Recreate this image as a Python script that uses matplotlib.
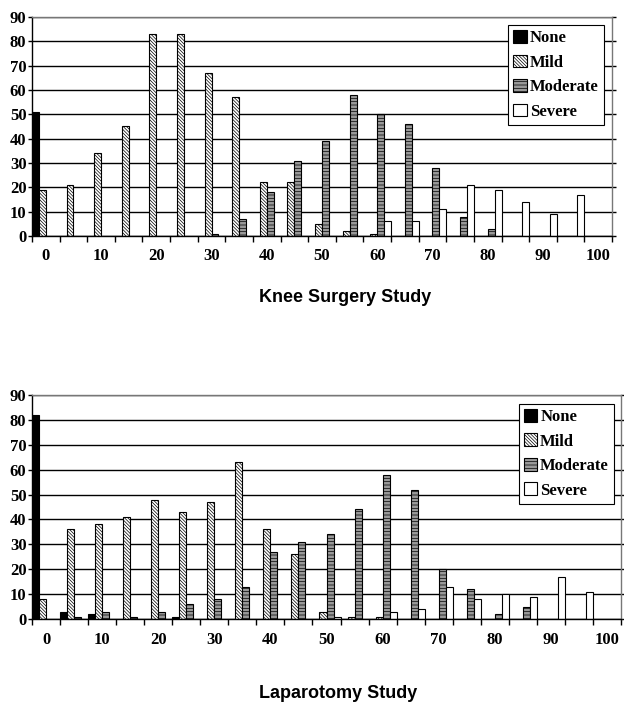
import matplotlib.pyplot as plt
import numpy as np

plt.rcParams['hatch.linewidth'] = 0.5

categories = list(range(0, 101, 5))
tick_labels = [str(c) if c % 10 == 0 else "" for c in categories]
series = ["None", "Mild", "Moderate", "Severe"]

# Knee Surgery Study
knee_none = [51, 0, 0, 0, 0, 0, 0, 0, 0, 0, 0, 0, 0, 0, 0, 0, 0, 0, 0, 0, 0]
knee_mild = [19, 21, 34, 45, 83, 83, 67, 57, 22, 22, 5, 2, 1, 0, 0, 0, 0, 0, 0, 0, 0]
knee_moderate = [0, 0, 0, 0, 0, 0, 1, 7, 18, 31, 39, 58, 50, 46, 28, 8, 3, 0, 0, 0, 0]
knee_severe = [0, 0, 0, 0, 0, 0, 0, 0, 0, 0, 0, 0, 6, 6, 11, 21, 19, 14, 9, 17, 0]

# Laparotomy Study
lap_none = [82, 3, 2, 0, 0, 1, 0, 0, 0, 0, 0, 0, 0, 0, 0, 0, 0, 0, 0, 0, 0]
lap_mild = [8, 36, 38, 41, 48, 43, 47, 63, 36, 26, 3, 1, 1, 0, 0, 0, 0, 0, 0, 0, 0]
lap_moderate = [0, 1, 3, 1, 3, 6, 8, 13, 27, 31, 34, 44, 58, 52, 20, 12, 2, 5, 0, 0, 0]
lap_severe = [0, 0, 0, 0, 0, 0, 0, 0, 0, 0, 1, 0, 3, 4, 13, 8, 10, 9, 17, 11, 0]

styles = [
    dict(facecolor="black", hatch=None),
    dict(facecolor="white", hatch="\\" * 10),
    dict(facecolor="#999999", hatch="-----"),
    dict(facecolor="white", hatch=None),
]

tick_font = dict(family="Liberation Serif", weight="bold", size=12)


def draw(ax, data, title_y, title, legend_anchor):
    x = np.arange(len(categories))
    w = 0.25
    for i, (vals, st) in enumerate(zip(data, styles)):
        ax.bar(x - 0.375 + i * w, vals, width=w, edgecolor="black",
               linewidth=0.8, label=series[i], zorder=2, **st)
    ax.set_xlim(-0.5, len(categories) - 0.5)
    ax.set_ylim(0, 90)
    ax.set_yticks(range(0, 91, 10))
    ax.yaxis.grid(True, color="black", linewidth=1.0)
    ax.set_axisbelow(True)

    ax.set_xticks(x)
    ax.set_xticklabels(tick_labels, fontdict=tick_font)
    ax.set_xticks(np.arange(-0.5, len(categories)), minor=True)
    ax.tick_params(axis="x", which="major", length=0, pad=9)
    ax.tick_params(axis="x", which="minor", length=4, width=1, direction="out")
    ax.tick_params(axis="y", length=3, width=1, pad=1, right=True)
    for lab in ax.get_yticklabels():
        lab.set_fontproperties(tick_font)
    for s in ax.spines.values():
        s.set_linewidth(1.0)
    ax.spines["right"].set_color("#777777")
    ax.spines["top"].set_color("#777777")

    leg = ax.legend(loc="upper right", bbox_to_anchor=legend_anchor,
                    prop=dict(family="Liberation Serif", weight="bold", size=12),
                    fancybox=False, framealpha=1, edgecolor="black",
                    handlelength=0.8, handleheight=0.8, handletextpad=0.2,
                    labelspacing=0.5, borderpad=0.3, borderaxespad=0)
    leg.get_frame().set_linewidth(0.8)

    ax.figure.text(title[1], title_y, title[0], ha="center", va="center",
                   family="Liberation Sans", weight="bold", size=13)


fig = plt.figure(figsize=(6.24, 7.08), dpi=100)
ax1 = fig.add_axes([32 / 624, 1 - 236 / 708, 580 / 624, 219 / 708])
ax2 = fig.add_axes([32 / 624, 1 - 619 / 708, 589 / 624, 224 / 708])

draw(ax1, [knee_none, knee_mild, knee_moderate, knee_severe],
     1 - 297 / 708, ("Knee Surgery Study", 345 / 624), (0.986, 0.963))
draw(ax2, [lap_none, lap_mild, lap_moderate, lap_severe],
     1 - 694 / 708, ("Laparotomy Study", 338 / 624), (0.988, 0.96))

fig.savefig("out.png", dpi=100)
